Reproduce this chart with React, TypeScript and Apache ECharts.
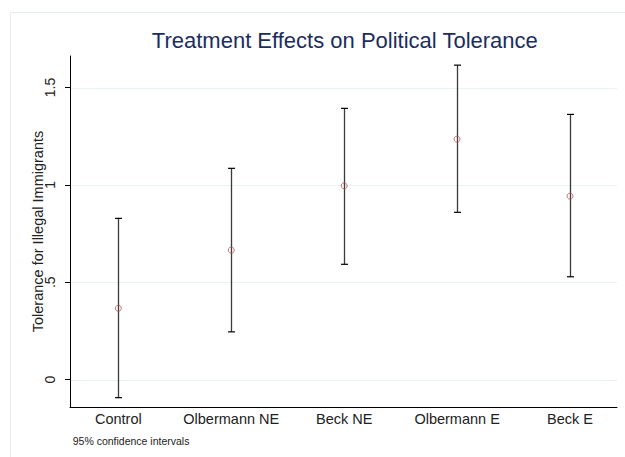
import React, { useEffect, useRef } from "react";
import * as echarts from "echarts";

const categories = ["Control", "Olbermann NE", "Beck NE", "Olbermann E", "Beck E"];
const means = [0.366, 0.665, 0.995, 1.235, 0.942];
const lower = [-0.093, 0.245, 0.592, 0.859, 0.528];
const upper = [0.828, 1.085, 1.393, 1.615, 1.362];
const yTicks = [0, 0.5, 1, 1.5];
const yTickLabels = ["0", ".5", "1", "1.5"];

const FONT = "'Liberation Sans', Arial, sans-serif";

export default function App() {
  const ref = useRef<HTMLDivElement>(null);
  useEffect(() => {
    if (!ref.current) return;
    const chart = echarts.init(ref.current, undefined, { renderer: "svg" });
    const positions = categories.map((_, i) => i + 1);
    const option: any = {
      animation: false,
      backgroundColor: "#ffffff",
      textStyle: { fontFamily: FONT },
      grid: { left: 70, right: 8, top: 56, bottom: 50, containLabel: false },
      graphic: [
        {
          type: "rect",
          shape: { x: 10.5, y: 12.5, width: 700, height: 500 },
          style: { fill: "none", stroke: "#e4edf0", lineWidth: 1 },
          silent: true,
          z: -10,
        },
        {
          type: "text",
          x: 344.8,
          y: 40.5,
          style: {
            text: "Treatment Effects on Political Tolerance",
            fontFamily: FONT,
            fontSize: 22,
            fill: "#1c2d5e",
            textAlign: "center",
            textVerticalAlign: "middle",
          },
        },
        {
          type: "text",
          x: 72.7,
          y: 441,
          style: {
            text: "95% confidence intervals",
            fontFamily: FONT,
            fontSize: 10.5,
            fill: "#222",
            textAlign: "left",
            textVerticalAlign: "middle",
          },
        },
      ],
      xAxis: {
        type: "value",
        min: 0.572,
        max: 5.416,
        axisLine: { show: true, onZero: false, lineStyle: { color: "#000", width: 1 } },
        axisTick: { show: false },
        splitLine: { show: false },
        axisLabel: {
          customValues: positions,
          formatter: (v: number) => categories[Math.round(v) - 1] ?? "",
          fontFamily: FONT,
          fontSize: 14.5,
          color: "#222",
          margin: 4,
          showMinLabel: true,
          showMaxLabel: true,
        },
      },
      yAxis: {
        type: "value",
        min: -0.141,
        max: 1.662,
        name: "Tolerance for Illegal Immigrants",
        nameLocation: "middle",
        nameGap: 25,
        nameMoveOverlap: false,
        nameRotate: 90,
        nameTextStyle: { fontFamily: FONT, fontSize: 14.5, color: "#222" },
        axisLine: { show: true, onZero: false, lineStyle: { color: "#000", width: 1 } },
        axisTick: { show: true, customValues: yTicks, length: 5, lineStyle: { color: "#000" } },
        splitLine: { show: false },
        axisLabel: {
          customValues: yTicks,
          rotate: 90,
          formatter: (v: number) => {
            const idx = yTicks.findIndex((t) => Math.abs(t - v) < 1e-6);
            return idx >= 0 ? yTickLabels[idx] : "";
          },
          fontFamily: FONT,
          fontSize: 14,
          color: "#222",
          margin: 13,
        },
      },
      series: [
        {
          type: "custom",
          name: "grid",
          silent: true,
          z: 1,
          data: yTicks.map((t) => [t]),
          renderItem: (params: any, api: any) => {
            const v = api.value(0);
            const cs = params.coordSys;
            const y = Math.round(api.coord([1, v])[1]) + 0.5;
            return {
              type: "line",
              shape: { x1: cs.x + 1, y1: y, x2: cs.x + cs.width, y2: y },
              style: { stroke: "#eaf2f2", lineWidth: 1 },
            };
          },
        },
        {
          type: "custom",
          name: "ci",
          z: 2,
          data: positions.map((p, i) => [p, lower[i], upper[i]]),
          renderItem: (params: any, api: any) => {
            const x = api.value(0);
            const lo = api.coord([x, api.value(1)]);
            const hi = api.coord([x, api.value(2)]);
            const cx = Math.round(lo[0]) + 0.5;
            const half = 3.5;
            return {
              type: "group",
              children: [
                {
                  type: "line",
                  shape: { x1: cx, y1: lo[1], x2: cx, y2: hi[1] },
                  style: { stroke: "#3a3a3a", lineWidth: 1.3 },
                },
                {
                  type: "line",
                  shape: { x1: cx - half, y1: hi[1], x2: cx + half, y2: hi[1] },
                  style: { stroke: "#000", lineWidth: 1.2 },
                },
                {
                  type: "line",
                  shape: { x1: cx - half, y1: lo[1], x2: cx + half, y2: lo[1] },
                  style: { stroke: "#000", lineWidth: 1.2 },
                },
              ],
            };
          },
        },
        {
          type: "scatter",
          name: "mean",
          z: 3,
          symbol: "circle",
          symbolSize: 6,
          itemStyle: { color: "rgba(255,255,255,0)", borderColor: "#b4505a", borderWidth: 1 },
          data: positions.map((p, i) => [p, means[i]]),
        },
      ],
    };
    chart.setOption(option);
    return () => chart.dispose();
  }, []);
  return (
    <div
      ref={ref}
      style={{ position: "fixed", left: 0, top: 0, width: 625, height: 457 }}
    />
  );
}
